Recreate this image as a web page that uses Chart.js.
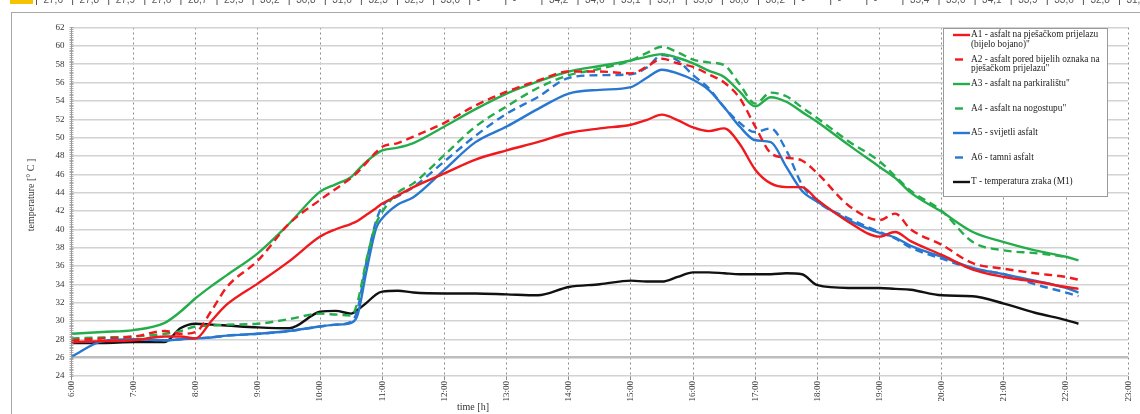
<!DOCTYPE html>
<html>
<head>
<meta charset="utf-8">
<script src="https://cdn.jsdelivr.net/npm/chart.js@4.4.0/dist/chart.umd.min.js"></script>
<style>
  html, body { margin: 0; padding: 0; background: #fff; }
  #wrap { width: 1140px; height: 414px; }
</style>
</head>
<body>
<div id="wrap"><canvas id="tempChart" width="1140" height="414"></canvas></div>
<script>
// time of day in hours (6.5 = 6:30)
const times = [6.0, 6.5, 7.0, 7.5, 7.75, 8.0, 8.25, 8.5, 9.0, 9.5, 10.0, 10.25, 10.5, 10.6, 10.75, 10.9,
  11.0, 11.25, 11.5, 12.0, 12.5, 13.0, 13.5, 14.0, 14.5, 15.0, 15.25, 15.5, 15.75, 16.0, 16.25, 16.5,
  16.75, 17.0, 17.25, 17.5, 17.75, 18.0, 18.5, 19.0, 19.25, 19.5, 20.0, 20.5, 21.0, 21.5, 22.0, 22.2];

const a1 = [27.7, 27.8, 27.9, 28.3, 28.3, 28.1, 30.0, 31.8, 34.1, 36.5, 39.2, 40.0, 40.6, 40.9, 41.6, 42.3,
  42.8, 43.7, 44.6, 46.1, 47.6, 48.6, 49.5, 50.5, 51.0, 51.4, 51.9, 52.5, 51.9, 51.1, 50.7, 51.0,
  49.3, 46.5, 45.0, 44.6, 44.6, 43.2, 40.8, 39.2, 39.7, 38.7, 37.2, 35.6, 34.8, 34.3, 33.7, 33.5];
const a2 = [27.9, 28.1, 28.3, 28.9, 28.6, 28.8, 31.1, 33.7, 36.6, 40.6, 43.2, 44.4, 45.6, 46.2, 47.3, 48.4,
  49.0, 49.4, 50.1, 51.6, 53.5, 55.0, 56.2, 57.2, 57.2, 57.0, 57.7, 58.6, 58.1, 57.7, 56.9, 56.0,
  54.3, 51.2, 48.3, 47.8, 47.5, 46.1, 42.6, 41.0, 41.7, 40.0, 38.3, 36.3, 35.7, 35.2, 34.8, 34.5];
const a3 = [28.6, 28.8, 29.0, 29.8, 31.0, 32.5, 33.8, 35.0, 37.4, 40.6, 44.1, 44.9, 45.7, 46.4, 47.4, 48.2,
  48.6, 48.9, 49.4, 51.2, 53.1, 54.8, 56.1, 57.2, 57.8, 58.4, 58.8, 59.1, 58.7, 58.1, 57.3, 56.6,
  55.0, 53.4, 54.4, 53.9, 52.8, 51.7, 49.2, 46.8, 45.6, 44.0, 41.9, 39.7, 38.6, 37.7, 37.0, 36.6];
const a4 = [28.1, 28.2, 28.3, 28.6, 28.9, 29.4, 29.5, 29.6, 29.7, 30.2, 30.8, 30.7, 30.6, 32.0, 36.8, 40.6,
  41.9, 44.0, 45.0, 48.1, 51.2, 53.4, 55.4, 56.8, 57.5, 58.4, 59.2, 59.9, 59.3, 58.5, 58.2, 57.9,
  55.8, 53.7, 54.9, 54.5, 53.3, 52.1, 49.6, 47.4, 45.8, 44.2, 42.0, 38.6, 37.7, 37.4, 37.0, null];
const a5 = [26.1, 27.8, 28.0, 27.9, 28.0, 28.1, 28.2, 28.4, 28.6, 28.9, 29.4, 29.6, 29.8, 30.6, 35.6, 40.1,
  41.2, 42.7, 43.5, 46.5, 49.5, 51.2, 53.1, 54.8, 55.2, 55.5, 56.5, 57.4, 57.0, 56.3, 55.2, 53.3,
  51.2, 49.7, 49.5, 46.8, 44.2, 43.0, 41.0, 39.6, 39.1, 38.2, 37.0, 35.8, 35.1, 34.4, 33.6, 33.1];
const a6 = [27.7, 27.8, 28.0, 27.9, 28.0, 28.1, 28.2, 28.4, 28.6, 28.9, 29.4, 29.6, 29.9, 31.2, 36.6, 40.9,
  42.5, 43.6, 44.6, 47.4, 50.2, 52.6, 54.4, 56.5, 56.8, 56.9, 57.6, 59.0, 58.4, 56.8, 55.4, 53.3,
  51.6, 50.6, 51.0, 48.6, 44.9, 43.0, 41.2, 39.7, 39.0, 38.0, 36.8, 35.7, 35.1, 34.0, 33.1, 32.7];
const airT = [27.6, 27.6, 27.7, 27.7, 29.2, 29.7, 29.6, 29.5, 29.3, 29.2, 31.0, 31.1, 30.8, 31.2, 32.0, 32.9,
  33.2, 33.3, 33.1, 33.0, 33.0, 32.9, 32.8, 33.7, 34.0, 34.4, 34.3, 34.3, 34.8, 35.3, 35.3, 35.2,
  35.1, 35.1, 35.1, 35.2, 35.1, 33.9, 33.6, 33.6, 33.5, 33.4, 32.8, 32.7, 31.9, 30.9, 30.1, 29.7];

const seriesNames = [
  ['A1 - asfalt na pješačkom prijelazu', '(bijelo bojano)"'],
  ['A2 - asfalt pored bijelih oznaka na', 'pješačkom prijelazu"'],
  ['A3 - asfalt na parkiralištu"'],
  ['A4 - asfalt na nogostupu"'],
  ['A5 - svijetli asfalt'],
  ['A6 - tamni asfalt'],
  ['T - temperatura zraka (M1)']
];
const headerCells = ['27,6', '27,8', '27,9', '27,6', '28,7', '29,5', '30,2', '30,8', '31,6', '32,3', '32,9',
  '33,0', '-', '-', '34,2', '34,6', '35,1', '35,7', '35,8', '36,0', '36,2', '-', '-', '-', '35,4', '35,0',
  '34,1', '33,9', '33,6', '32,8', '31,7', '30,9'];

const RED = '#f0191e', GREEN = '#25ad4b', BLUE = '#2878d0', BLACK = '#111111';
const SERIF = '"Liberation Serif", "DejaVu Serif", serif';

function pts(vals) { return times.map((t, i) => ({ x: t, y: vals[i] })); }
function ds(i, vals, color, dashed) {
  return {
    label: seriesNames[i].join(' '),
    data: pts(vals),
    borderColor: color,
    backgroundColor: color,
    borderWidth: 2.4,
    borderDash: dashed ? [8, 5] : [],
    pointRadius: 0,
    cubicInterpolationMode: 'monotone',
    spanGaps: false
  };
}

const frame = {
  id: 'frame',
  beforeDraw(chart) {
    const c = chart.ctx;
    c.save();
    c.fillStyle = '#fff';
    c.fillRect(0, 0, chart.width, chart.height);
    // cropped spreadsheet row at the very top
    c.fillStyle = '#f5c400';
    c.fillRect(10, 0, 23, 4);
    c.font = '10px "Liberation Sans", sans-serif';
    c.fillStyle = '#555';
    c.strokeStyle = '#555';
    c.lineWidth = 1;
    headerCells.forEach((s, i) => {
      const x = 36.5 + i * 36.1;
      c.beginPath(); c.moveTo(x, 0); c.lineTo(x, 5); c.stroke();
      c.fillText(s, x + 7, 2.5);
    });
    // outer chart border
    c.strokeStyle = '#a8a8a8';
    c.strokeRect(11.5, 12.5, 1140, 420);
    c.restore();
  },
  afterDraw(chart) {
    const c = chart.ctx;
    const y = chart.scales.y;
    const left = chart.chartArea.left;
    c.save();
    // minor ticks on the value axis
    c.strokeStyle = '#9a9a9a';
    c.lineWidth = 0.8;
    for (let v = 24; v <= 62.001; v += 0.2) {
      const py = Math.round(y.getPixelForValue(v)) + 0.5;
      c.beginPath(); c.moveTo(left - 2, py); c.lineTo(left + 2, py); c.stroke();
    }
    // axis titles
    c.fillStyle = '#333';
    c.font = '10px ' + SERIF;
    c.textAlign = 'center';
    c.textBaseline = 'middle';
    c.fillText('time [h]', 473, 407);
    c.translate(31, 195);
    c.rotate(-Math.PI / 2);
    c.fillText('temperature [° C ]', 0, 0);
    c.restore();

    // legend box
    c.save();
    c.fillStyle = '#fff';
    c.fillRect(943, 28, 164, 168);
    c.strokeStyle = '#9a9a9a';
    c.lineWidth = 1;
    c.strokeRect(943.5, 28.5, 164, 168);
    c.font = '9.3px ' + SERIF;
    c.fillStyle = '#222';
    c.textBaseline = 'middle';
    chart.data.datasets.forEach((d, i) => {
      const ly = 35 + i * 24.5;
      c.strokeStyle = d.borderColor;
      c.lineWidth = 2.4;
      c.beginPath();
      if (d.borderDash.length) { c.moveTo(955, ly); c.lineTo(963, ly); }
      else { c.moveTo(953, ly); c.lineTo(970, ly); }
      c.stroke();
      seriesNames[i].forEach((t, k) => c.fillText(t, 971, ly + k * 9.2));
    });
    c.restore();
  }
};

new Chart(document.getElementById('tempChart'), {
  type: 'line',
  data: {
    datasets: [
      ds(0, a1, RED, false),
      ds(1, a2, RED, true),
      ds(2, a3, GREEN, false),
      ds(3, a4, GREEN, true),
      ds(4, a5, BLUE, false),
      ds(5, a6, BLUE, true),
      ds(6, airT, BLACK, false)
    ]
  },
  options: {
    responsive: false,
    animation: false,
    layout: { padding: { top: 27.5, right: 11, left: 0, bottom: 0 } },
    plugins: { legend: { display: false }, tooltip: { enabled: false } },
    scales: {
      x: {
        type: 'linear',
        min: 6, max: 23,
        afterFit(s) { s.height = 38; },
        ticks: {
          stepSize: 1,
          minRotation: 90, maxRotation: 90,
          padding: 1,
          color: '#333',
          font: { family: SERIF, size: 9 },
          callback: v => v + ':00'
        },
        grid: { color: '#8a8a8a', lineWidth: 1, tickLength: 4 },
        border: { display: false, dash: [2, 3] }
      },
      y: {
        min: 24, max: 62,
        afterFit(s) { s.width = 71.5; },
        ticks: {
          stepSize: 2,
          padding: 7,
          color: '#333',
          font: { family: SERIF, size: 9 }
        },
        grid: {
          drawTicks: false,
          color: ctx => ctx.tick && ctx.tick.value === 26 ? '#bdbdbd' : '#d2d2d2',
          lineWidth: ctx => ctx.tick && ctx.tick.value === 26 ? 2.5 : 1.4
        },
        border: { color: '#9a9a9a' }
      }
    }
  },
  plugins: [frame]
});
</script>
</body>
</html>
